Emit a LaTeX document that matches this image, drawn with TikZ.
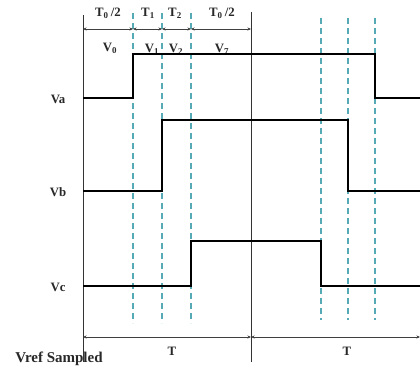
\documentclass[tikz,border=0pt]{standalone}
\usepackage{fontspec}
\setmainfont{Liberation Serif}
\usetikzlibrary{arrows.meta}
\definecolor{dashc}{RGB}{85,170,182}
\definecolor{txtc}{RGB}{40,40,40}
\begin{document}
\begin{tikzpicture}[x=1pt,y=-1pt,
  lbl/.style={font=\bfseries\fontsize{12.8}{15}\selectfont,text=txtc,inner sep=0pt},
  thin line/.style={draw=black!80,line width=0.9pt},
  dim/.style={draw=black!75,line width=0.6pt,{Stealth[length=3.5pt,width=3pt]}-{Stealth[length=3.5pt,width=3pt]}},
  wave/.style={draw=black,line width=1.8pt,line join=miter},
  guide/.style={draw=dashc,line width=1.1pt,dash pattern=on 6pt off 4pt}]
\useasboundingbox (0,0) rectangle (420,370);
% coordinates
\coordinate (L0) at (83,15);   \coordinate (L1) at (83,362);
\coordinate (M0) at (251,12);  \coordinate (M1) at (251,362);
% guides
\foreach \n/\x/\t/\b in {g1/133/13/323, g2/162/13/323, g3/191/13/323, g4/321/18/320, g5/348/18/320, g6/375/18/320}{
  \coordinate (\n t) at (\x,\t); \coordinate (\n b) at (\x,\b);
  \draw[guide] (\n t) -- (\n b);
}
% frame lines
\draw[thin line] (L0) -- (L1);
\draw[thin line] (M0) -- (M1);
% top dimension arrows
\coordinate (d0) at (83,29); \coordinate (d1) at (133,29); \coordinate (d2) at (162,29);
\coordinate (d3) at (191,29); \coordinate (d4) at (251,29);
\draw[dim] (d0) -- (d1);
\draw[dim] (d1) -- (d2);
\draw[dim] (d2) -- (d3);
\draw[dim] (d3) -- (d4);
\node[lbl] (t0a) at (108,13) {T\textsubscript{0}\,/2};
\node[lbl] (t1) at (148,13) {T\textsubscript{1}};
\node[lbl] (t2) at (175,13) {T\textsubscript{2}};
\node[lbl] (t0b) at (222,13) {T\textsubscript{0}\,/2};
\node[lbl] (v0) at (110,48) {V\textsubscript{0}};
\node[lbl] (v1) at (152,49) {V\textsubscript{1}};
\node[lbl] (v2) at (176,49) {V\textsubscript{2}};
\node[lbl] (v7) at (222,49) {V\textsubscript{7}};
% waveforms
\coordinate (a0) at (83,98); \coordinate (a5) at (420,98);
\draw[wave] (a0) -- (133,98) -- (133,54) -- (375,54) -- (375,98) -- (a5);
\coordinate (b0) at (83,191); \coordinate (b5) at (420,191);
\draw[wave] (b0) -- (162,191) -- (162,120) -- (348,120) -- (348,191) -- (b5);
\coordinate (c0) at (83,286); \coordinate (c5) at (420,286);
\draw[wave] (c0) -- (191,286) -- (191,241) -- (321,241) -- (321,286) -- (c5);
\node[lbl] (va) at (58,99) {Va};
\node[lbl] (vb) at (58,192) {Vb};
\node[lbl] (vc) at (58,287) {Vc};
% bottom period arrows
\coordinate (p0) at (83,337); \coordinate (p1) at (251,337); \coordinate (p2) at (420,337);
\draw[dim] (p0) -- (p1);
\draw[dim] (p1) -- (p2);
\node[lbl] (T1) at (172,351) {T};
\node[lbl] (T2) at (347,351) {T};
\node[lbl,font=\bfseries\fontsize{15}{17}\selectfont] (vs) at (59,359) {Vref Sampled};
\end{tikzpicture}
\end{document}
